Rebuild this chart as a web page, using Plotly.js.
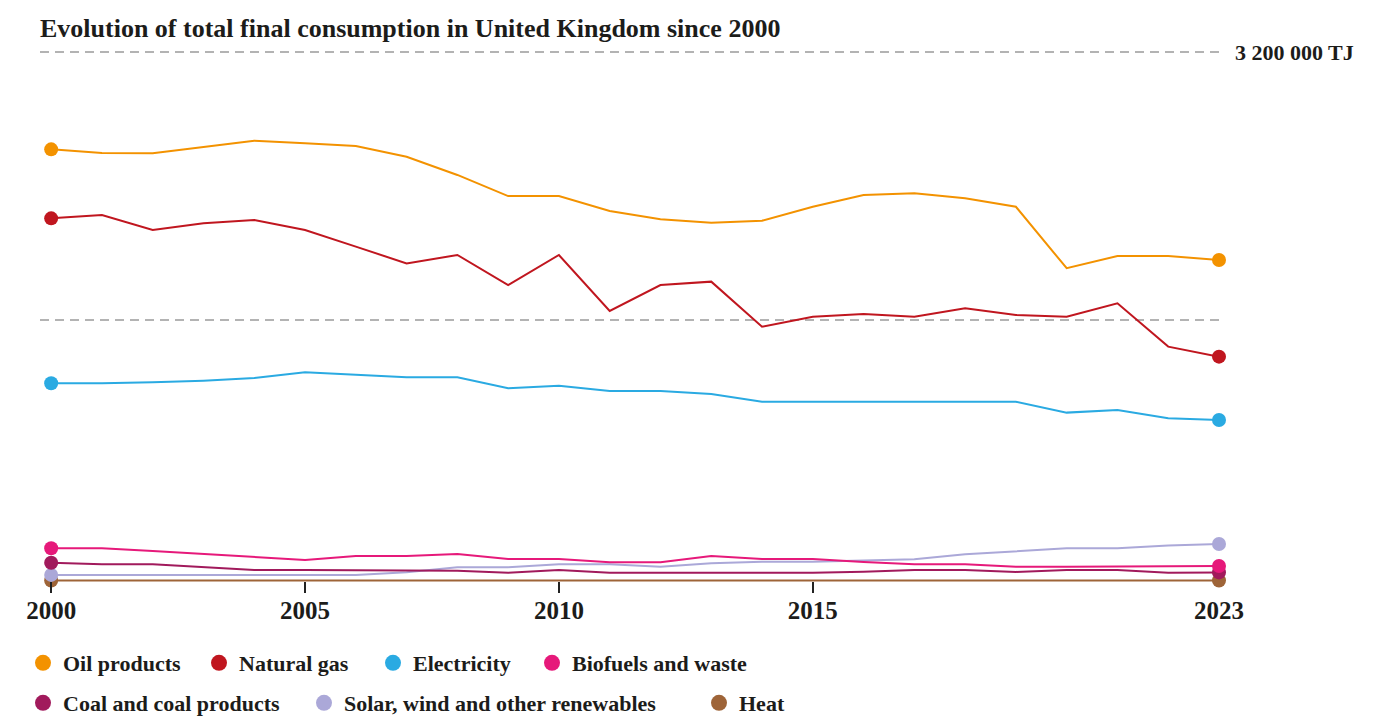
<!DOCTYPE html>
<html>
<head>
<meta charset="utf-8">
<script src="https://cdn.plot.ly/plotly-3.0.1.min.js"></script>
<style>
  html, body { margin: 0; padding: 0; background: #ffffff; }
  #chart { width: 1395px; height: 716px; }
</style>
</head>
<body>
<div id="chart"></div>
<script>
// Total final consumption in the United Kingdom by source, TJ
const years = [2000, 2001, 2002, 2003, 2004, 2005, 2006, 2007, 2008, 2009, 2010, 2011,
               2012, 2013, 2014, 2015, 2016, 2017, 2018, 2019, 2020, 2021, 2022, 2023];

const oilProducts = [2619000, 2597000, 2595000, 2633000, 2670000, 2655000, 2639000, 2575000,
                     2466000, 2340000, 2340000, 2251000, 2201000, 2181000, 2193000, 2276000,
                     2346000, 2356000, 2327000, 2276000, 1909000, 1982000, 1982000, 1958000];

const naturalGas = [2207000, 2227000, 2137000, 2177000, 2197000, 2137000, 2038000, 1938000,
                    1988000, 1809000, 1988000, 1654000, 1809000, 1829000, 1560000, 1620000,
                    1636000, 1620000, 1670000, 1630000, 1620000, 1700000, 1441000, 1381000];

const electricity = [1222000, 1222000, 1228000, 1238000, 1254000, 1288000, 1273000, 1258000,
                     1258000, 1192000, 1208000, 1176000, 1176000, 1158000, 1112000, 1112000,
                     1112000, 1112000, 1112000, 1112000, 1047000, 1063000, 1013000, 1003000];

const biofuelsWaste = [237000, 237000, 221000, 203000, 183000, 167000, 191000, 191000,
                       203000, 173000, 173000, 153000, 153000, 191000, 173000, 173000,
                       155000, 141000, 141000, 127000, 127000, 127000, 127000, 131000];

const coalProducts = [151000, 141000, 141000, 124000, 107000, 107000, 107000, 107000,
                      103000, 91000, 107000, 91000, 91000, 91000, 91000, 91000,
                      97000, 107000, 107000, 96000, 107000, 107000, 91000, 93000];

const renewables = [78000, 78000, 78000, 78000, 78000, 78000, 78000, 94000,
                    124000, 124000, 141000, 141000, 127000, 147000, 157000, 157000,
                    165000, 171000, 201000, 217000, 237000, 237000, 253000, 263000];

const heat = [45000, 45000, 45000, 45000, 45000, 45000, 45000, 45000,
              45000, 45000, 45000, 45000, 45000, 45000, 45000, 45000,
              45000, 45000, 45000, 45000, 45000, 45000, 45000, 45000];

const seriesNames = ['Oil products', 'Natural gas', 'Electricity', 'Biofuels and waste',
                     'Coal and coal products', 'Solar, wind and other renewables', 'Heat'];
const seriesValues = [oilProducts, naturalGas, electricity, biofuelsWaste,
                      coalProducts, renewables, heat];
const seriesColors = ['#f39200', '#c0161f', '#2aaae2', '#e6197a', '#a11a5c', '#aba8d8', '#9e6438'];

const tickYears = [2000, 2005, 2010, 2015, 2023];
const tickLabels = ['2000', '2005', '2010', '2015', '2023'];
const topGridValue = 3200000;
const topGridLabel = '3 200 000 TJ';
const chartTitle = 'Evolution of total final consumption in United Kingdom since 2000';

const FONT = 'Liberation Serif, Times New Roman, serif';
const INK = '#1c1c1a';

// page geometry (px)
const W = 1395, H = 716;
const plotLeft = 40, plotRight = 1219, plotTop = 49, plotBottom = 593;
const plotW = plotRight - plotLeft, plotH = plotBottom - plotTop;

// legend key placement: symbol centre x and row centre y, in px
const keyX = [42, 218, 392, 551, 42, 323, 718];
const keyY = [663, 663, 663, 663, 703, 703, 703];

// dots only on the first and last year of each line
const endSizes = years.map((y, i) => (i === 0 || i === years.length - 1) ? 14 : 0);

const legendIds = seriesNames.map((n, k) => k === 0 ? 'legend' : 'legend' + (k + 1));

const traces = [];
// lines drawn from the last series to the first, so earlier series sit on top
for (let k = seriesValues.length - 1; k >= 0; k--) {
  traces.push({
    type: 'scatter',
    mode: 'lines+markers',
    x: years,
    y: seriesValues[k],
    name: seriesNames[k],
    showlegend: false,
    line: { color: seriesColors[k], width: 2 },
    marker: { color: seriesColors[k], size: endSizes, opacity: 1, line: { width: 0 } },
    cliponaxis: false,
    hoverinfo: 'skip'
  });
}

// one legend box per key so each sits where it belongs
seriesNames.forEach((name, k) => {
  traces.push({
    type: 'scatter',
    mode: 'markers',
    x: [null],
    y: [null],
    name: '<b>' + name + '</b>',
    legend: legendIds[k],
    marker: { color: seriesColors[k], size: 16, symbol: 'circle', opacity: 1 },
    hoverinfo: 'skip'
  });
});

const layout = {
  width: W,
  height: H,
  paper_bgcolor: '#ffffff',
  plot_bgcolor: '#ffffff',
  margin: { l: plotLeft, r: W - plotRight, t: plotTop, b: H - plotBottom, pad: 0, autoexpand: false },
  title: {
    text: '<b>' + chartTitle + '</b>',
    xref: 'container',
    x: 40 / W,
    xanchor: 'left',
    yref: 'container',
    y: 1 - 28 / H,
    yanchor: 'middle',
    font: { family: FONT, size: 26, color: INK }
  },
  xaxis: {
    range: [1999.78, 2023],
    tickvals: tickYears,
    ticktext: tickLabels.map(t => '<b>' + t + '</b>'),
    ticks: 'inside',
    ticklen: 11,
    tickwidth: 1.5,
    tickcolor: '#222222',
    showgrid: false,
    showline: false,
    zeroline: false,
    automargin: false,
    tickfont: { family: FONT, size: 25, color: INK },
    fixedrange: true
  },
  yaxis: {
    range: [-30000, 3218000],
    tickvals: [topGridValue / 2, topGridValue],
    showticklabels: false,
    ticks: '',
    showgrid: true,
    gridcolor: '#b3b3b3',
    gridwidth: 2,
    griddash: '9px,6px',
    zeroline: false,
    showline: false,
    automargin: false,
    fixedrange: true
  },
  annotations: [{
    text: '<b>' + topGridLabel + '</b>',
    xref: 'paper',
    x: 1,
    xshift: 14,
    xanchor: 'left',
    yref: 'y',
    y: topGridValue,
    yanchor: 'middle',
    showarrow: false,
    font: { family: FONT, size: 22, color: INK }
  }],
  showlegend: true
};

legendIds.forEach((id, k) => {
  layout[id] = {
    orientation: 'h',
    xref: 'paper',
    x: (keyX[k] - 19 - plotLeft) / plotW,
    xanchor: 'left',
    yref: 'paper',
    y: -(keyY[k] - plotBottom) / plotH,
    yanchor: 'middle',
    font: { family: FONT, size: 22, color: INK },
    bgcolor: 'rgba(0,0,0,0)',
    borderwidth: 0,
    itemclick: false,
    itemdoubleclick: false
  };
});

Plotly.newPlot('chart', traces, layout, { displayModeBar: false, staticPlot: true });
</script>
</body>
</html>
